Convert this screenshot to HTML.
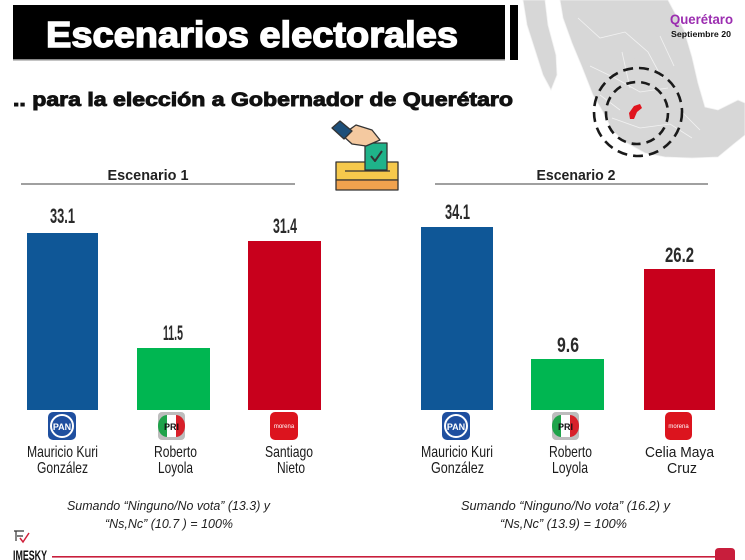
<!DOCTYPE html>
<html><head><meta charset="utf-8"><style>
html,body{margin:0;padding:0;background:#fff;}
svg{display:block;}
</style></head><body>
<svg width="745" height="560" viewBox="0 0 745 560" xmlns="http://www.w3.org/2000/svg" font-family="Liberation Sans, Arial, sans-serif">
<rect width="745" height="560" fill="#fff"/>
<!-- Map -->
<g fill="#d7d7d7" stroke="#f2f2f2" stroke-width="0.8">
<path d="M523,0 L545,0 L548,25 L556,55 L557,75 L551,90 L543,75 L535,50 L527,25 Z"/>
<path d="M560,0 L668,0 L684,30 L692,57 L698,83 L705,107 L718,110 L738,100 L745,103 L745,135 L735,143 L718,157 L692,158 L665,157 L645,153 L625,142 L612,130 L603,112 L593,95 L582,67 L572,43 L563,18 Z"/>
<path d="M578,18 L600,38 L625,32 L648,52 L662,78 M590,66 L615,78 L640,92 L668,88 M612,118 L640,128 L670,124 L692,138 M622,52 L630,88 M660,36 L674,66 M600,95 L620,110 M680,110 L700,130"/>
</g>
<path d="M629,113 L634,106 L640,104 L642,108 L637,112 L634,119 L630,119 Z" fill="#e0141e"/>
<circle cx="638" cy="112" r="44" fill="none" stroke="#1a1a1a" stroke-width="2.6" stroke-dasharray="10 6"/>
<circle cx="637" cy="113" r="31" fill="none" stroke="#1a1a1a" stroke-width="2.6" stroke-dasharray="9 6"/>
<!-- Header -->
<rect x="13" y="5" width="492" height="55" fill="#000"/>
<rect x="13" y="59" width="492" height="1.5" fill="#888"/>
<rect x="510" y="5" width="8" height="55" fill="#000"/>
<text x="46" y="47" font-size="36" font-weight="bold" fill="#fff" stroke="#fff" stroke-width="1.4" textLength="412" lengthAdjust="spacingAndGlyphs">Escenarios electorales</text>
<text x="670" y="24" font-size="14" font-weight="bold" fill="#9b2db0" textLength="63" lengthAdjust="spacingAndGlyphs">Querétaro</text>
<text x="671" y="37" font-size="8" font-weight="bold" fill="#111" textLength="60" lengthAdjust="spacingAndGlyphs">Septiembre 20</text>
<text x="13" y="106" font-size="19" font-weight="bold" fill="#111" stroke="#111" stroke-width="0.9" textLength="500" lengthAdjust="spacingAndGlyphs">.. para la elección a Gobernador de Querétaro</text>
<!-- Ballot icon -->
<g stroke="#333" stroke-width="1.3" stroke-linejoin="round">
<rect x="336" y="162" width="62" height="18" fill="#f6c94c"/>
<rect x="336" y="180" width="62" height="10" fill="#f0a24e"/>
<line x1="345" y1="171" x2="390" y2="171"/>
<rect x="365" y="143" width="22" height="27" fill="#1fb38a"/>
<path d="M371,156 L375,161 L382,151" fill="none" stroke-width="2"/>
<path d="M342,135 L356,125 L372,130 L380,140 L366,146 L352,144 Z" fill="#f4c9a0"/>
<path d="M332,128 L340,121 L352,131 L344,139 Z" fill="#1d4f7a"/>
</g>
<!-- Scenario headings -->
<text x="148" y="180" font-size="15" font-weight="bold" fill="#222" text-anchor="middle" textLength="81" lengthAdjust="spacingAndGlyphs">Escenario 1</text>
<rect x="21" y="183" width="274" height="2" fill="#a0a0a0"/>
<text x="576" y="180" font-size="15" font-weight="bold" fill="#222" text-anchor="middle" textLength="79" lengthAdjust="spacingAndGlyphs">Escenario 2</text>
<rect x="435" y="183" width="273" height="2" fill="#a0a0a0"/>
<!-- Bars -->
<rect x="27" y="233" width="71" height="177" fill="#0f5797"/>
<rect x="137" y="348" width="73" height="62" fill="#00b651"/>
<rect x="248" y="241" width="73" height="169" fill="#c8001c"/>
<rect x="421" y="227" width="72" height="183" fill="#0f5797"/>
<rect x="531" y="359" width="73" height="51" fill="#00b651"/>
<rect x="644" y="269" width="71" height="141" fill="#c8001c"/>
<g font-size="21" font-weight="bold" fill="#2a2a2a" font-family="Liberation Sans Narrow, Liberation Sans, sans-serif" text-anchor="middle">
<text x="62.5" y="223" textLength="25" lengthAdjust="spacingAndGlyphs">33.1</text>
<text x="173" y="340" textLength="20" lengthAdjust="spacingAndGlyphs">11.5</text>
<text x="285" y="233" textLength="24" lengthAdjust="spacingAndGlyphs">31.4</text>
<text x="457.5" y="219" textLength="25" lengthAdjust="spacingAndGlyphs">34.1</text>
<text x="568" y="352" textLength="22" lengthAdjust="spacingAndGlyphs">9.6</text>
<text x="679.5" y="262" textLength="29" lengthAdjust="spacingAndGlyphs">26.2</text>
</g>
<!-- Logos -->
<rect x="48" y="412" width="28" height="28" rx="5" fill="#1f4f9f"/>
<circle cx="62" cy="426" r="11" fill="none" stroke="#fff" stroke-width="2"/>
<text x="62" y="430" font-size="9" font-weight="bold" fill="#fff" text-anchor="middle">PAN</text>
<rect x="442" y="412" width="28" height="28" rx="5" fill="#1f4f9f"/>
<circle cx="456" cy="426" r="11" fill="none" stroke="#fff" stroke-width="2"/>
<text x="456" y="430" font-size="9" font-weight="bold" fill="#fff" text-anchor="middle">PAN</text>
<g>
<rect x="158" y="412" width="27" height="28" rx="4" fill="#bdbdbd"/>
<path d="M167,415 A9,11 0 0,0 167,437 Z" fill="#1fa34a"/>
<rect x="167" y="415" width="9" height="22" fill="#fff"/>
<path d="M176,415 A9,11 0 0,1 176,437 Z" fill="#d8202a"/>
<text x="171.5" y="430" font-size="9" font-weight="bold" fill="#111" text-anchor="middle">PRI</text>
</g>
<g>
<rect x="552" y="412" width="27" height="28" rx="4" fill="#bdbdbd"/>
<path d="M561,415 A9,11 0 0,0 561,437 Z" fill="#1fa34a"/>
<rect x="561" y="415" width="9" height="22" fill="#fff"/>
<path d="M570,415 A9,11 0 0,1 570,437 Z" fill="#d8202a"/>
<text x="565.5" y="430" font-size="9" font-weight="bold" fill="#111" text-anchor="middle">PRI</text>
</g>
<rect x="270" y="412" width="28" height="28" rx="5" fill="#dc141e"/>
<text x="284" y="428" font-size="6" fill="#fff" text-anchor="middle">morena</text>
<rect x="665" y="412" width="27" height="28" rx="5" fill="#dc141e"/>
<text x="678.5" y="428" font-size="6" fill="#fff" text-anchor="middle">morena</text>
<!-- Names -->
<g font-size="16" fill="#1a1a1a" font-family="Liberation Sans Narrow, Liberation Sans, sans-serif" text-anchor="middle">
<text x="62.5" y="457" textLength="71" lengthAdjust="spacingAndGlyphs">Mauricio Kuri</text>
<text x="62.5" y="473" textLength="51" lengthAdjust="spacingAndGlyphs">González</text>
<text x="175.5" y="457" textLength="43" lengthAdjust="spacingAndGlyphs">Roberto</text>
<text x="175.5" y="473" textLength="35" lengthAdjust="spacingAndGlyphs">Loyola</text>
<text x="289" y="457" textLength="48" lengthAdjust="spacingAndGlyphs">Santiago</text>
<text x="291" y="473" textLength="28" lengthAdjust="spacingAndGlyphs">Nieto</text>
<text x="457" y="457" textLength="72" lengthAdjust="spacingAndGlyphs">Mauricio Kuri</text>
<text x="457.5" y="473" textLength="53" lengthAdjust="spacingAndGlyphs">González</text>
<text x="570.5" y="457" textLength="43" lengthAdjust="spacingAndGlyphs">Roberto</text>
<text x="570" y="473" textLength="36" lengthAdjust="spacingAndGlyphs">Loyola</text>
<text x="679.5" y="457" font-size="14.5" textLength="69" lengthAdjust="spacingAndGlyphs">Celia Maya</text>
<text x="682" y="473" font-size="14.5" textLength="30" lengthAdjust="spacingAndGlyphs">Cruz</text>
</g>
<!-- Footnotes -->
<g font-size="13" font-style="italic" fill="#222">
<text x="67" y="510" textLength="203" lengthAdjust="spacingAndGlyphs">Sumando “Ninguno/No vota”  (13.3) y</text>
<text x="105" y="528" textLength="128" lengthAdjust="spacingAndGlyphs">“Ns,Nc” (10.7 ) =  100%</text>
<text x="461" y="510" textLength="209" lengthAdjust="spacingAndGlyphs">Sumando “Ninguno/No vota”  (16.2) y</text>
<text x="500" y="528" textLength="127" lengthAdjust="spacingAndGlyphs">“Ns,Nc” (13.9) =  100%</text>
</g>
<!-- Footer -->
<path d="M14,531 L24,531 M16,531 L16,541 M17,536 L23,536" fill="none" stroke="#333" stroke-width="1.2"/>
<path d="M20,538 L23,542 L29,533" fill="none" stroke="#d0203a" stroke-width="1.5"/>
<text x="13" y="560" font-size="14" font-weight="bold" fill="#111" textLength="34" lengthAdjust="spacingAndGlyphs">IMESKY</text>
<rect x="52" y="556" width="665" height="1.6" fill="#c81e3c"/>
<path d="M715,560 L715,552 Q715,548 719,548 L731,548 Q735,548 735,552 L735,560 Z" fill="#c81e3c"/>
</svg>
</body></html>
